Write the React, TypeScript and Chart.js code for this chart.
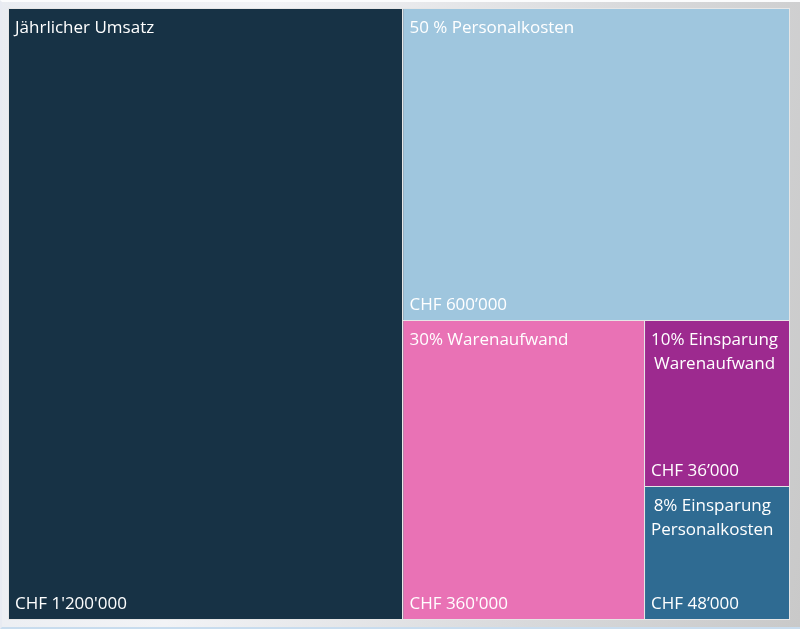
import React, { useEffect, useRef } from 'react';
import { Chart, registerables } from 'chart.js';

Chart.register(...registerables);

// ---- data ----
const categories = [
  'Jährlicher Umsatz',
  '50 % Personalkosten',
  '30% Warenaufwand',
  '10% Einsparung Warenaufwand',
  '8% Einsparung Personalkosten',
];
const weights = [100, 50, 30, 10, 8];
const amountLabels = [
  "CHF 1'200'000",
  'CHF 600’000',
  "CHF 360'000",
  'CHF 36’000',
  'CHF 48’000',
];

const palette = ['#173245', '#9fc6de', '#e972b5', '#9d2a8f', '#2f6b92'];

const DOMAIN_W = 781;
const DOMAIN_H = 611;
const FONT = '17px "Open Sans", sans-serif';

type Rect = { x: number; y: number; w: number; h: number; i: number };

const sum = (a: number[]) => a.reduce((s, v) => s + v, 0);

function worst(row: number[], side: number) {
  const s = sum(row);
  const mx = Math.max(...row);
  const mn = Math.min(...row);
  return Math.max((side * side * mx) / (s * s), (s * s) / (side * side * mn));
}

function squarify(vals: number[], x0: number, y0: number, w0: number, h0: number): Rect[] {
  const total = sum(vals);
  const areas = vals.map((v) => (v * w0 * h0) / total);
  const out: Rect[] = [];
  let x = x0, y = y0, w = w0, h = h0;
  let row: number[] = [];
  let idx: number[] = [];
  const flush = () => {
    const s = sum(row);
    if (w >= h) {
      const cw = s / h;
      let yy = y;
      row.forEach((a, k) => {
        const hh = a / cw;
        out.push({ x, y: yy, w: cw, h: hh, i: idx[k] });
        yy += hh;
      });
      x += cw;
      w -= cw;
    } else {
      const rh = s / w;
      let xx = x;
      row.forEach((a, k) => {
        const ww = a / rh;
        out.push({ x: xx, y, w: ww, h: rh, i: idx[k] });
        xx += ww;
      });
      y += rh;
      h -= rh;
    }
    row = [];
    idx = [];
  };
  let i = 0;
  while (i < areas.length) {
    const side = Math.min(w, h);
    if (row.length === 0 || worst([...row, areas[i]], side) <= worst(row, side)) {
      row.push(areas[i]);
      idx.push(i);
      i++;
    } else flush();
  }
  if (row.length) flush();
  return out;
}

function wrap(ctx: CanvasRenderingContext2D, text: string, maxW: number): string[] {
  const words = text.split(' ');
  const lines: string[] = [];
  let cur = '';
  words.forEach((wd) => {
    const t = cur ? cur + ' ' + wd : wd;
    if (ctx.measureText(t).width > maxW && cur) {
      lines.push(cur);
      cur = wd;
    } else cur = t;
  });
  if (cur) lines.push(cur);
  return lines;
}

const treemapPlugin = {
  id: 'treemapCells',
  afterDatasetsDraw(chart: any) {
    const { ctx, scales } = chart;
    const xs = scales.x;
    const ys = scales.y;
    const rects = squarify(weights, 0, 0, DOMAIN_W, DOMAIN_H);
    ctx.save();
    rects.forEach((r) => {
      const px0 = xs.getPixelForValue(r.x);
      const px1 = xs.getPixelForValue(r.x + r.w);
      const py0 = ys.getPixelForValue(r.y);
      const py1 = ys.getPixelForValue(r.y + r.h);
      const left = Math.min(px0, px1);
      const top = Math.min(py0, py1);
      const w = Math.abs(px1 - px0);
      const h = Math.abs(py1 - py0);
      ctx.fillStyle = palette[r.i];
      ctx.fillRect(left, top, w, h);
      ctx.strokeStyle = '#e6e6e6';
      ctx.lineWidth = 1;
      ctx.strokeRect(Math.round(left) - 0.5, Math.round(top) - 0.5, Math.round(w), Math.round(h));

      ctx.font = FONT;
      ctx.fillStyle = '#ffffff';
      ctx.textBaseline = 'alphabetic';
      const lines = wrap(ctx, categories[r.i], w - 12);
      const blockW = Math.max(...lines.map((l) => ctx.measureText(l).width));
      ctx.textAlign = 'center';
      lines.forEach((l, k) => {
        ctx.fillText(l, left + 6 + blockW / 2, top + 24 + k * 24);
      });
      ctx.textAlign = 'left';
      ctx.fillText(amountLabels[r.i], left + 6, top + h - 11);
    });
    ctx.restore();
  },
};

export default function App() {
  const ref = useRef<HTMLCanvasElement | null>(null);
  useEffect(() => {
    document.body.style.margin = '0';
    if (!ref.current) return;
    const chart = new Chart(ref.current, {
      type: 'scatter',
      data: { datasets: [{ data: [], pointRadius: 0 }] },
      options: {
        animation: false,
        responsive: true,
        maintainAspectRatio: false,
        layout: { padding: { left: 9, top: 9, right: 10, bottom: 9 } },
        plugins: { legend: { display: false }, tooltip: { enabled: false } },
        scales: {
          x: { type: 'linear', min: 0, max: DOMAIN_W, display: false },
          y: { type: 'linear', min: 0, max: DOMAIN_H, reverse: true, display: false },
        },
      },
      plugins: [treemapPlugin],
    });
    return () => chart.destroy();
  }, []);
  return (
    <div
      style={{
        width: 800,
        height: 629,
        position: 'relative',
        boxSizing: 'border-box',
        background: 'linear-gradient(100deg, #e9ecf1 0%, #f2f3f6 30%, #d8d9db 70%, #c9c9c9 100%)',
        borderTop: '2px solid #fbfcfd',
        borderLeft: '2px solid #e8ebf2',
        borderBottom: '2px solid #c8dcee',
      }}
    >
      <div style={{ position: 'absolute', left: -2, top: -2, width: 800, height: 629 }}>
        <canvas ref={ref} />
      </div>
    </div>
  );
}
